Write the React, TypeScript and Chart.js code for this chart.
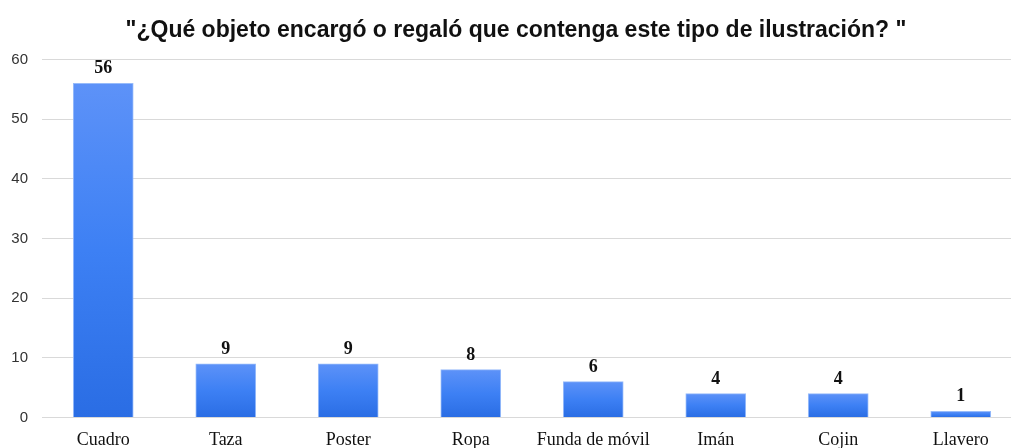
import React, { useEffect, useRef } from "react";
import { Chart, registerables } from "chart.js";

Chart.register(...registerables);

const categories = ["Cuadro", "Taza", "Poster", "Ropa", "Funda de móvil", "Imán", "Cojin", "Llavero"];
const values = [56, 9, 9, 8, 6, 4, 4, 1];
const yTicks = [0, 10, 20, 30, 40, 50, 60];
const titleText = "\"¿Qué objeto encargó o regaló que contenga este tipo de ilustración? \"";

const valueLabels = {
  id: "valueLabels",
  afterDatasetsDraw(chart: any) {
    const ctx = chart.ctx;
    const meta = chart.getDatasetMeta(0);
    ctx.save();
    ctx.font = "bold 18px 'Liberation Serif', 'Times New Roman', serif";
    ctx.fillStyle = "#111";
    ctx.textAlign = "center";
    ctx.textBaseline = "alphabetic";
    meta.data.forEach((bar: any, i: number) => {
      ctx.fillText(String(values[i]), bar.x, bar.y - 10);
    });
    ctx.restore();
  },
};

export default function App() {
  const ref = useRef<HTMLCanvasElement>(null);
  useEffect(() => {
    if (!ref.current) return;
    const chart = new Chart(ref.current, {
      type: "bar",
      data: {
        labels: categories,
        datasets: [
          {
            data: values,
            backgroundColor: (c: any) => {
              const ch = c.chart;
              const area = ch.chartArea;
              if (!area || c.dataIndex === undefined) return "#4080f0";
              const ys = ch.scales.y;
              const top = ys.getPixelForValue(values[c.dataIndex]);
              const bottom = ys.getPixelForValue(0);
              const g = ch.ctx.createLinearGradient(0, top, 0, bottom + 0.01);
              g.addColorStop(0, "#5d92f8");
              g.addColorStop(0.5, "#3d80f4");
              g.addColorStop(1, "#2a6de4");
              return g;
            },
            borderColor: "rgba(140,180,250,0.9)",
            borderWidth: 1,
            barThickness: 60,
          },
        ],
      },
      options: {
        animation: false,
        responsive: false,
        maintainAspectRatio: false,
        layout: { padding: { left: 10, right: 0, top: 15, bottom: 4 } },
        plugins: {
          legend: { display: false },
          tooltip: { enabled: false },
          title: {
            display: true,
            text: titleText,
            color: "#111",
            font: { family: "'Liberation Sans', Arial, sans-serif", size: 23, weight: "bold" },
            padding: { top: 2, bottom: 15 },
          },
        },
        scales: {
          x: {
            grid: { display: false, drawTicks: false },
            border: { display: false },
            ticks: {
              color: "#111",
              padding: 12,
              maxRotation: 0,
              autoSkip: false,
              font: { family: "'Liberation Serif', 'Times New Roman', serif", size: 18 },
            },
          },
          y: {
            min: 0,
            max: 60,
            afterBuildTicks: (s: any) => {
              s.ticks = yTicks.map((v) => ({ value: v }));
            },
            afterFit: (s: any) => {
              s.width = 32;
            },
            grid: { color: "#d9d9d9", drawTicks: false, lineWidth: 1 },
            border: { display: false },
            ticks: {
              color: "#333",
              padding: 14,
              font: { family: "'Liberation Sans', Arial, sans-serif", size: 15 },
            },
          },
        },
      },
      plugins: [valueLabels],
    });
    return () => chart.destroy();
  }, []);
  return (
    <div style={{ position: "fixed", left: 0, top: 0, width: 1011, height: 448, overflow: "hidden", background: "#fff" }}>
      <canvas ref={ref} width={1022} height={467} style={{ display: "block" }} />
    </div>
  );
}
